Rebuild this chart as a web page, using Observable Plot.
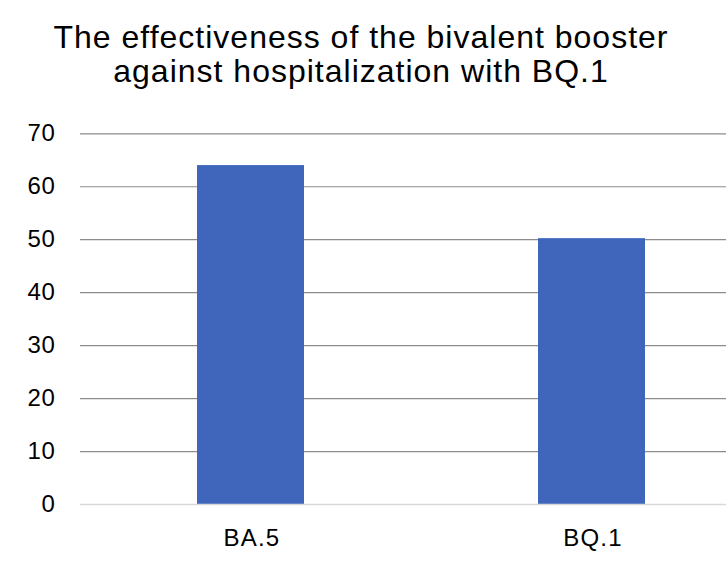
<!DOCTYPE html>
<html>
<head>
<meta charset="utf-8">
<script src="https://cdn.jsdelivr.net/npm/d3@7"></script>
<script src="https://cdn.jsdelivr.net/npm/@observablehq/plot@0.6"></script>
<style>
  html, body { margin: 0; padding: 0; background: #fff; }
  #title { width: 726px; padding-top: 20px; text-align: center; font-family: "Liberation Sans", Arial, sans-serif; font-size: 32px; line-height: 34px; letter-spacing: 1px; color: #000; box-sizing: border-box; padding-left: 0px; padding-right: 4px; }
  #chart svg { display: block; }
  #chart svg g[aria-label="x-axis tick label"] text { letter-spacing: 1.2px; }
  #chart svg g[aria-label="y-axis tick label"] text { letter-spacing: 0.6px; }
</style>
</head>
<body>
<div id="title">The effectiveness of the bivalent booster<br>against hospitalization with BQ.1</div>
<div id="chart"></div>
<script>
const variants = ["BA.5", "BQ.1"];
const effectiveness = [64, 50.2];
const yTicks = [0, 10, 20, 30, 40, 50, 60, 70];
const gridTicks = [10, 20, 30, 40, 50, 60, 70];

const data = variants.map((v, i) => ({variant: v, value: effectiveness[i]}));

const chart = Plot.plot({
  width: 726,
  height: 488,
  marginTop: 45.3,
  marginBottom: 72,
  marginLeft: 80,
  marginRight: 0,
  style: {fontFamily: "'Liberation Sans', Arial, sans-serif", fontSize: "24px", color: "#000", background: "#fff", overflow: "visible"},
  x: {domain: variants, range: [80, 763], paddingInner: 0.685, paddingOuter: 0.3425, label: null},
  y: {domain: [0, 70], label: null},
  marks: [
    Plot.ruleY(gridTicks, {stroke: "#8c8c8c", strokeWidth: 1.2}),
    Plot.barY(data, {x: "variant", y: "value", fill: "#3F66BB"}),
    Plot.ruleY([0], {stroke: "#d9d9d9", strokeWidth: 1.5}),
    Plot.axisY(yTicks, {tickSize: 0, tickPadding: 25, fontSize: 24, fill: "#000", label: null}),
    Plot.axisX({tickSize: 0, tickPadding: 24, fontSize: 24, fill: "#000", label: null, dx: 1})
  ]
});
document.getElementById("chart").appendChild(chart);
</script>
</body>
</html>
